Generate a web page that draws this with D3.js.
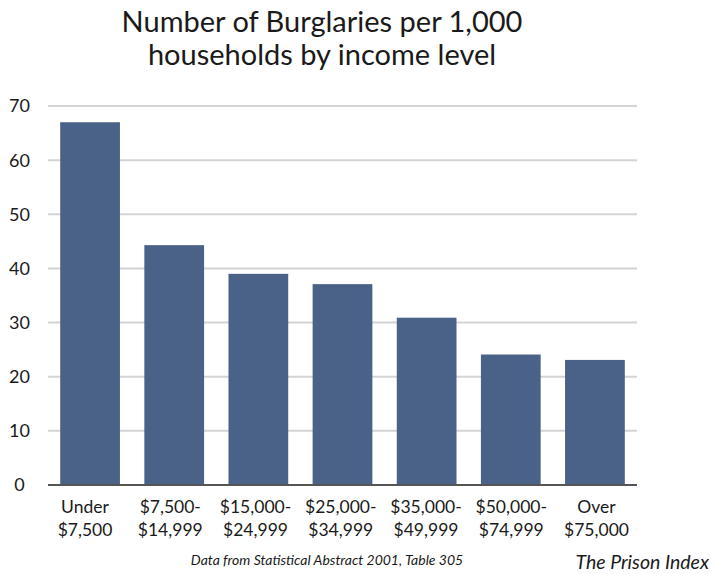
<!DOCTYPE html>
<html>
<head>
<meta charset="utf-8">
<script src="https://cdn.jsdelivr.net/npm/d3@7"></script>
<style>
  html, body { margin: 0; padding: 0; background: #fff; }
  svg { display: block; }
  text { font-family: Lato, "Open Sans", sans-serif; fill: #1a1a1a; }
</style>
</head>
<body>
<svg id="chart" width="715" height="574"></svg>
<script>
// Burglaries per 1,000 households, by household income bracket
const categories = ["under7500", "7500", "15000", "25000", "35000", "50000", "over75000"];
const labelLine1 = ["Under", "$7,500-", "$15,000-", "$25,000-", "$35,000-", "$50,000-", "Over"];
const labelLine2 = ["$7,500", "$14,999", "$24,999", "$34,999", "$49,999", "$74,999", "$75,000"];
const values = [67.0, 44.3, 39.0, 37.1, 30.9, 24.1, 23.1];
const yTicks = [0, 10, 20, 30, 40, 50, 60, 70];

const titleLines = ["Number of Burglaries per 1,000", "households by income level"];
const sourceNote = "Data from Statistical Abstract 2001, Table 305";
const credit = "The Prison Index";

const svg = d3.select("#chart");

const x = d3.scaleBand()
  .domain(categories)
  .range([48, 637])
  .paddingInner(0.29)
  .paddingOuter(0.145);

// category labels sit on a slightly wider pitch than the bars
const xLabel = d3.scalePoint()
  .domain(categories)
  .range([85, 596.5]);

const y = d3.scaleLinear()
  .domain([0, 70])
  .range([485, 106]);

// title
svg.append("g")
  .selectAll("text")
  .data(titleLines)
  .join("text")
  .attr("x", 322)
  .attr("y", (d, i) => 32 + i * 33)
  .attr("text-anchor", "middle")
  .style("font-size", "29px")
  .text(d => d);

// horizontal gridlines
svg.append("g")
  .selectAll("line")
  .data(yTicks.filter(t => t > 0))
  .join("line")
  .attr("x1", 48)
  .attr("x2", 637)
  .attr("y1", d => y(d))
  .attr("y2", d => y(d))
  .attr("stroke", "#d4d4d4")
  .attr("stroke-width", 2);

// y tick labels
svg.append("g")
  .selectAll("text")
  .data(yTicks)
  .join("text")
  .attr("x", 19.5)
  .attr("y", d => y(d))
  .attr("dy", "0.36em")
  .attr("text-anchor", "middle")
  .style("font-size", "18px")
  .text(d => d);

// bars
svg.append("g")
  .selectAll("rect")
  .data(values)
  .join("rect")
  .attr("x", (d, i) => x(categories[i]))
  .attr("width", x.bandwidth())
  .attr("y", d => y(d))
  .attr("height", d => y(0) - y(d))
  .attr("fill", "#4a6188");

// baseline
svg.append("line")
  .attr("x1", 48)
  .attr("x2", 637)
  .attr("y1", y(0))
  .attr("y2", y(0))
  .attr("stroke", "#555")
  .attr("stroke-width", 2);

// category labels, two lines each
const lab = svg.append("g")
  .selectAll("text")
  .data(categories)
  .join("text")
  .attr("text-anchor", "middle")
  .style("font-size", "17.5px");
lab.append("tspan")
  .attr("x", d => xLabel(d))
  .attr("y", 513)
  .text((d, i) => labelLine1[i]);
lab.append("tspan")
  .attr("x", d => xLabel(d))
  .attr("y", 536)
  .text((d, i) => labelLine2[i]);

// source note
svg.append("text")
  .attr("x", 327)
  .attr("y", 565)
  .attr("text-anchor", "middle")
  .style("font-size", "14px")
  .style("font-style", "italic")
  .text(sourceNote);

// credit
svg.append("text")
  .attr("x", 709)
  .attr("y", 569)
  .attr("text-anchor", "end")
  .style("font-size", "19.5px")
  .style("font-style", "italic")
  .text(credit);
</script>
</body>
</html>
